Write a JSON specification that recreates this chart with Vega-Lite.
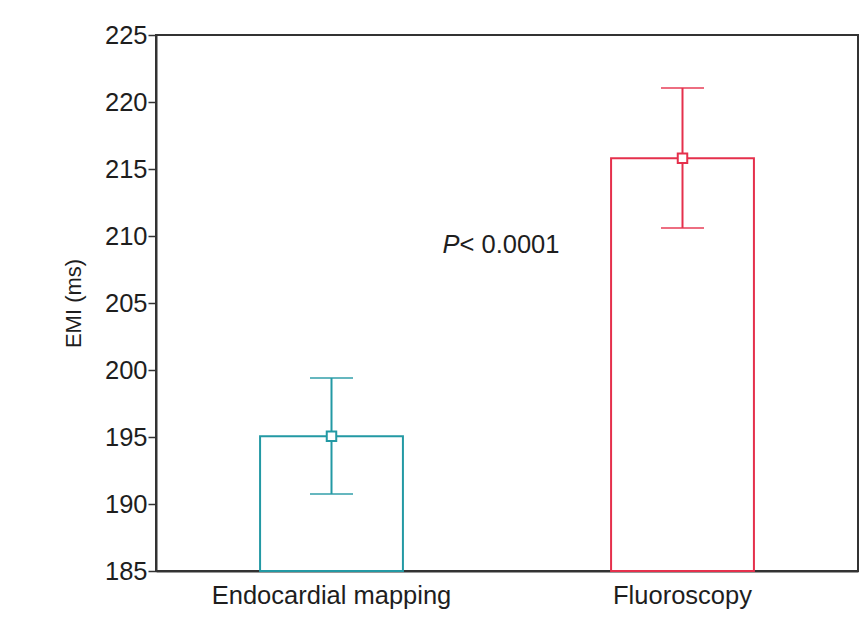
{
  "$schema": "https://vega.github.io/schema/vega-lite/v6.json",
  "autosize": "none",
  "width": 702,
  "height": 536,
  "padding": {"left": 156, "top": 35, "right": 7, "bottom": 60},
  "background": "white",
  "config": {
    "font": "Liberation Sans",
    "view": {"stroke": "#333333", "strokeWidth": 2}
  },
  "datasets": {
    "bars": [
      {"method": "Endocardial mapping", "emi": 195.05, "lo": 190.75, "hi": 199.4},
      {"method": "Fluoroscopy", "emi": 215.8, "lo": 210.6, "hi": 221.05}
    ],
    "note": [
      {"method": "Endocardial mapping", "y": 209.3, "p": "P", "rest": "< 0.0001"}
    ]
  },
  "encoding": {
    "x": {
      "field": "method",
      "type": "nominal",
      "sort": ["Endocardial mapping", "Fluoroscopy"],
      "scale": {"paddingInner": 0, "paddingOuter": 0},
      "axis": {
        "title": null,
        "labelAngle": 0,
        "labelLimit": 0,
        "ticks": false,
        "domainColor": "#333333",
        "domainWidth": 2,
        "labelFontSize": 25.5,
        "labelColor": "#1e1e1e",
        "labelPadding": 12
      }
    }
  },
  "layer": [
    {
      "data": {"name": "bars"},
      "mark": {"type": "bar", "fill": "white", "strokeWidth": 2, "width": {"band": 0.407}},
      "encoding": {
        "y": {
          "field": "emi",
          "type": "quantitative",
          "scale": {"domain": [185, 225], "zero": false, "nice": false},
          "axis": {
            "title": "EMI (ms)",
            "titleFontSize": 22,
            "titleFontWeight": "normal",
            "titleColor": "#1e1e1e",
            "titlePadding": 19,
            "values": [185, 190, 195, 200, 205, 210, 215, 220, 225],
            "grid": false,
            "tickSize": 8,
            "tickWidth": 1.5,
            "tickColor": "#333333",
            "domainColor": "#333333",
            "domainWidth": 2,
            "labelFontSize": 25.5,
            "labelColor": "#1e1e1e",
            "labelPadding": 1
          }
        },
        "y2": {"datum": 185},
        "stroke": {
          "field": "method",
          "type": "nominal",
          "scale": {"domain": ["Endocardial mapping", "Fluoroscopy"], "range": ["#2399a4", "#e5304c"]},
          "legend": null
        }
      }
    },
    {
      "data": {"name": "bars"},
      "mark": {"type": "rule", "strokeWidth": 2},
      "encoding": {
        "y": {"field": "lo", "type": "quantitative"},
        "y2": {"field": "hi"},
        "stroke": {"field": "method", "type": "nominal", "legend": null}
      }
    },
    {
      "data": {"name": "bars"},
      "mark": {"type": "tick", "size": 43, "thickness": 2},
      "encoding": {
        "y": {"field": "lo", "type": "quantitative"},
        "color": {"field": "method", "type": "nominal", "scale": {"domain": ["Endocardial mapping", "Fluoroscopy"], "range": ["#2399a4", "#e5304c"]}, "legend": null}
      }
    },
    {
      "data": {"name": "bars"},
      "mark": {"type": "tick", "size": 43, "thickness": 2},
      "encoding": {
        "y": {"field": "hi", "type": "quantitative"},
        "color": {"field": "method", "type": "nominal", "legend": null}
      }
    },
    {
      "data": {"name": "bars"},
      "mark": {"type": "point", "shape": "square", "size": 90, "filled": true, "fill": "white", "strokeWidth": 2, "opacity": 1},
      "encoding": {
        "y": {"field": "emi", "type": "quantitative"},
        "stroke": {"field": "method", "type": "nominal", "legend": null}
      }
    },
    {
      "data": {"name": "note"},
      "mark": {"type": "text", "align": "right", "baseline": "middle", "dx": 128, "fontSize": 25.5, "fontStyle": "italic", "color": "#1e1e1e"},
      "encoding": {
        "y": {"field": "y", "type": "quantitative"},
        "text": {"field": "p"}
      }
    },
    {
      "data": {"name": "note"},
      "mark": {"type": "text", "align": "left", "baseline": "middle", "dx": 128, "fontSize": 25.5, "color": "#1e1e1e"},
      "encoding": {
        "y": {"field": "y", "type": "quantitative"},
        "text": {"field": "rest"}
      }
    }
  ],
  "resolve": {"scale": {"stroke": "shared", "color": "shared"}}
}
